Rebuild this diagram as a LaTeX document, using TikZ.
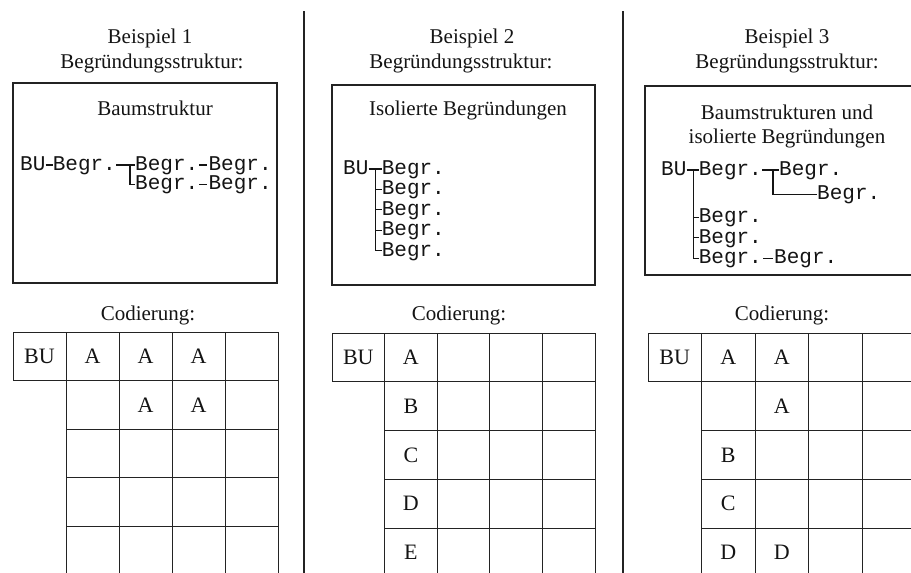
\documentclass[tikz,border=0pt]{standalone}
\usepackage{fontspec}
\setmainfont{Liberation Serif}
\setmonofont{Liberation Mono}
\usetikzlibrary{positioning}
\definecolor{ink}{RGB}{20,20,20}
\definecolor{rule}{RGB}{35,35,35}

\begin{document}
\begin{tikzpicture}[
    x=1pt,y=-1pt,
    title/.style={font=\fontsize{21}{25}\selectfont,anchor=base,text=ink},
    code/.style={font=\ttfamily\fontsize{21}{24}\selectfont,inner sep=0pt,text height=11pt,text depth=0pt,text=ink},
    letter/.style={font=\fontsize{22}{26}\selectfont,inner sep=0pt,text height=14.5pt,text depth=0pt,text=ink},
    link/.style={line width=1.1pt,ink},
    frame/.style={line width=1.1pt,rule},
    grid/.style={line width=0.9pt,rule}
]
\useasboundingbox (0,0) rectangle (911,573);
\clip (0,0) rectangle (911,573);

% separators
\draw[frame] (304,11) -- (304,573);
\draw[frame] (623,11) -- (623,573);

% headings
\node[title] (ex1) at (150,43) {Beispiel 1};
\node[title] (st1) at (152,68) {Begründungsstruktur:};
\node[title] (ex2) at (472,43) {Beispiel 2};
\node[title] (st2) at (461,68) {Begründungsstruktur:};
\node[title] (ex3) at (787,43) {Beispiel 3};
\node[title] (st3) at (787,68) {Begründungsstruktur:};

% Beispiel 1
\draw[frame] (13,83) rectangle (277,283);
\node[title] (h1) at (155,115) {Baumstruktur};
\node[code,anchor=west] (bu1) at (20,165) {BU};
\node[code,right=7pt of bu1] (p1a) {Begr.};
\node[code,right=19pt of p1a] (p1b) {Begr.};
\node[code,right=10pt of p1b] (p1c) {Begr.};
\node[code,below=8pt of p1b] (p1d) {Begr.};
\node[code,below=8pt of p1c] (p1e) {Begr.};
\draw[link] (bu1) -- (p1a);
\draw[link] (p1a) -- (p1b);
\draw[link] ([xshift=-5pt]p1b.west) |- (p1d.west);
\draw[link,shorten <=1pt,shorten >=1pt] (p1b) -- (p1c);
\draw[link,shorten <=1pt,shorten >=1pt] (p1d) -- (p1e);

% Beispiel 2
\draw[frame] (332,85) rectangle (595,285);
\node[title] (h2) at (468,115) {Isolierte Begründungen};
\node[code,anchor=west] (bu2) at (343,169) {BU};
\node[code,right=13pt of bu2] (p2a) {Begr.};
\node[code,below=9pt of p2a] (p2b) {Begr.};
\node[code,below=9pt of p2b] (p2c) {Begr.};
\node[code,below=9pt of p2c] (p2d) {Begr.};
\node[code,below=9pt of p2d] (p2e) {Begr.};
\draw[link] (bu2) -- (p2a);
\draw[link] ([xshift=-6pt]p2a.west) |- (p2e.west);
\foreach \n in {p2b,p2c,p2d}
    \draw[link] ([xshift=-6pt]\n.west) -- (\n.west);

% Beispiel 3
\draw[frame] (645,86) rectangle (930,275);
\node[title] (h3a) at (787,119) {Baumstrukturen und};
\node[title] (h3b) at (787,143) {isolierte Begründungen};
\node[code,anchor=west] (bu3) at (661,170) {BU};
\node[code,right=12pt of bu3] (p3a) {Begr.};
\node[code,right=17pt of p3a] (p3b) {Begr.};
\node[code,below=13pt of p3b,xshift=38pt] (p3c) {Begr.};
\node[code,below=36pt of p3a] (p3d) {Begr.};
\node[code,below=9pt of p3d] (p3e) {Begr.};
\node[code,below=9pt of p3e] (p3f) {Begr.};
\node[code,right=12pt of p3f] (p3g) {Begr.};
\draw[link] (bu3) -- (p3a);
\draw[link] ([xshift=-5pt]p3a.west) |- (p3f.west);
\foreach \n in {p3d,p3e}
    \draw[link] ([xshift=-5pt]\n.west) -- (\n.west);
\draw[link] (p3a) -- (p3b);
\draw[link] ([xshift=-6pt]p3b.west) |- (p3c.west);
\draw[link,shorten <=1pt,shorten >=1pt] (p3f) -- (p3g);

% Codierung
\node[title] (cod1) at (148,320) {Codierung:};
\node[title] (cod2) at (459,320) {Codierung:};
\node[title] (cod3) at (782,320) {Codierung:};

% table 1
\draw[grid] (13,332) rectangle (66,380.5);
\foreach \x in {66,119,172,225,278}
    \draw[grid] (\x,332) -- (\x,580);
\foreach \y in {332,380.5,429,477.5,526}
    \draw[grid] (66,\y) -- (278,\y);
\node[letter] (k1bu) at (39.5,356.25) {BU};
\node[letter] (k1a) at (92.5,356.25) {A};
\node[letter] (k1b) at (145.5,356.25) {A};
\node[letter] (k1c) at (198.5,356.25) {A};
\node[letter] (k1d) at (145.5,404.75) {A};
\node[letter] (k1e) at (198.5,404.75) {A};

% table 2
\draw[grid] (332,333) rectangle (384.6,381.75);
\foreach \x in {384.6,437.2,489.8,542.4,595}
    \draw[grid] (\x,333) -- (\x,580);
\foreach \y in {333,381.75,430.5,479.25,528}
    \draw[grid] (384.6,\y) -- (595,\y);
\node[letter] (k2bu) at (358.3,357.4) {BU};
\node[letter] (k2a) at (410.9,357.4) {A};
\node[letter] (k2b) at (410.9,406.1) {B};
\node[letter] (k2c) at (410.9,454.9) {C};
\node[letter] (k2d) at (410.9,503.6) {D};
\node[letter] (k2e) at (410.9,552.4) {E};

% table 3
\draw[grid] (648,333) rectangle (701.5,381.75);
\foreach \x in {701.5,755,808.5,862,915.5}
    \draw[grid] (\x,333) -- (\x,580);
\foreach \y in {333,381.75,430.5,479.25,528}
    \draw[grid] (701.5,\y) -- (915.5,\y);
\node[letter] (k3bu) at (674.75,357.4) {BU};
\node[letter] (k3a) at (728.25,357.4) {A};
\node[letter] (k3b) at (781.75,357.4) {A};
\node[letter] (k3c) at (781.75,406.1) {A};
\node[letter] (k3d) at (728.25,454.9) {B};
\node[letter] (k3e) at (728.25,503.6) {C};
\node[letter] (k3f) at (728.25,552.4) {D};
\node[letter] (k3g) at (781.75,552.4) {D};

\end{tikzpicture}
\end{document}
